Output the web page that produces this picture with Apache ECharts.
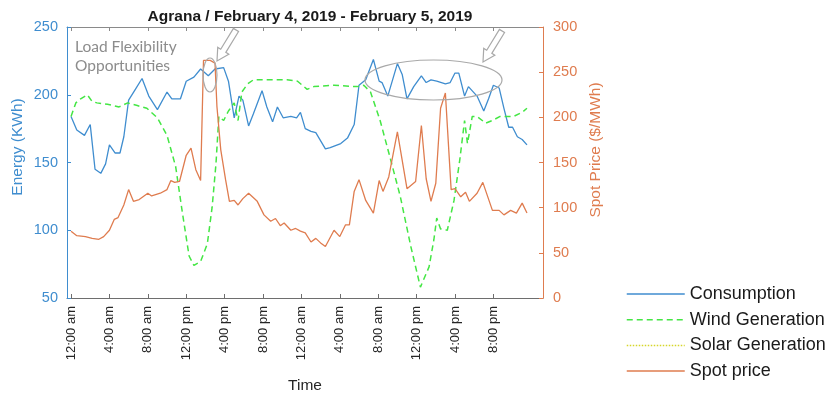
<!DOCTYPE html>
<html>
<head>
<meta charset="utf-8">
<script src="https://cdn.jsdelivr.net/npm/echarts@6/dist/echarts.min.js"></script>
<style>
  html, body { margin: 0; padding: 0; background: #ffffff; }
  #chart { width: 831px; height: 399px; }
</style>
</head>
<body>
<div id="chart"></div>
<script>
// Hours since 12:00 am on February 4, 2019
var tickHours = [0, 4, 8, 12, 16, 20, 24, 28, 32, 36, 40, 44];
var tickLabels = ['12:00 am', '4:00 am', '8:00 am', '12:00 pm', '4:00 pm', '8:00 pm',
                  '12:00 am', '4:00 am', '8:00 am', '12:00 pm', '4:00 pm', '8:00 pm'];

// Consumption (KWh)
var consumptionHours = [0, 0.6, 1.4, 2, 2.5, 3.1, 3.6, 4, 4.6, 5.1, 5.5, 6, 6.7, 7.4, 8.1, 9, 10, 10.5,
  11.4, 12, 12.8, 13.5, 14.3, 15, 15.9, 16.4, 17, 17.5, 17.9, 18.5, 19, 19.9, 20.4, 21, 21.5, 22.1,
  22.9, 23.5, 23.9, 24.4, 25, 25.5, 26.5, 27, 28.1, 28.8, 29.5, 30, 30.7, 31.5, 32.1, 32.4, 33, 34,
  34.5, 35, 35.7, 36.5, 37, 37.5, 38.1, 39, 39.5, 40, 40.4, 41, 41.4, 42.3, 43, 43.5, 44, 44.6, 45.1,
  45.6, 46, 46.5, 47, 47.5];
var consumption = [184, 174, 170, 178, 145, 142, 149, 163, 157, 157, 169, 196, 204, 212, 199, 189, 202, 197,
  197, 210, 213, 219, 214, 219, 220, 210, 183, 199, 196, 177, 186, 203, 191, 180, 191, 183,
  184, 183, 187, 175, 173, 172, 160, 161, 164, 168, 178, 207, 211, 226, 210, 209, 199, 223,
  215, 197, 206, 214, 209, 211, 210, 208, 209, 216, 216, 199, 206, 199, 188, 197, 207, 205, 190,
  176, 176, 169, 167, 163];

// Wind generation (KWh)
var windHours = [0, 0.5, 1, 1.7, 2.2, 2.7, 3.8, 5, 5.9, 6.9, 7.9, 9, 10, 10.9, 11.6, 12.3, 12.8, 13.5,
  14.2, 14.7, 15.1, 15.4, 15.9, 16.4, 17, 17.4, 17.8, 18.4, 19, 20.4, 22.5, 23.6, 24.6, 25.3, 27.4,
  29.8, 30.5, 31.2, 32.2, 33.3, 34.3, 35.4, 36.4, 37.3, 37.8, 38.1, 38.5, 39.2, 39.9, 40.5, 41,
  41.3, 41.8, 42.3, 43.2, 43.9, 44.7, 46.1, 47, 47.5];
var wind = [184, 194, 197, 200, 195, 194, 193, 191, 194, 192, 190, 183, 170, 147, 113, 81, 74, 77,
  90, 117, 149, 184, 181, 188, 194, 181, 202, 208, 211, 211, 211, 210, 204, 206, 207,
  206, 207, 202, 181, 152, 125, 88, 58, 73, 93, 109, 101, 100, 122, 152, 181,
  164, 184, 184, 179, 181, 184, 184, 187, 190];

// Solar generation (KWh)
var solarHours = [];
var solar = [];

// Spot price ($/MWh)
var priceHours = [0, 0.6, 1.5, 2.2, 2.9, 3.4, 4, 4.5, 4.9, 5.5, 6, 6.5, 7.1, 8, 8.4, 9.3, 10, 10.4,
  10.8, 11.3, 12, 12.5, 13, 13.5, 13.8, 14.5, 15, 15.2, 15.6, 16.1, 16.5, 17, 17.4, 17.9, 18.5, 19.4,
  20.1, 20.8, 21.3, 21.8, 22.2, 22.9, 23.4, 23.9, 24.4, 25, 25.5, 26, 26.5, 27.4, 28, 28.6, 29,
  29.5, 30, 30.7, 31.5, 32.1, 32.5, 33.1, 34, 35, 35.9, 36.5, 37, 37.5, 38, 38.5, 39, 39.6, 40,
  40.6, 41.1, 41.5, 42.3, 42.9, 43.9, 44.6, 45.1, 45.8, 46.4, 47, 47.5];
var price = [74, 69, 68, 66, 65, 68, 75, 87, 89, 103, 120, 107, 109, 116, 113, 116, 120, 130,
  128, 129, 158, 166, 142, 130, 263, 263, 260, 212, 164, 131, 107, 108, 103, 110, 116, 107,
  92, 85, 88, 80, 83, 75, 77, 74, 72, 62, 66, 61, 57, 75, 68, 81, 81,
  118, 131, 108, 94, 130, 118, 134, 184, 121, 129, 191, 132, 107, 127, 210, 227, 120, 121,
  112, 117, 107, 116, 128, 97, 97, 92, 97, 94, 105, 94];

var seriesNames = ['Consumption', 'Wind Generation', 'Solar Generation', 'Spot price'];

function pairs(xs, ys) {
  return xs.map(function (x, i) { return [x, ys[i]]; });
}

// Outlined block arrow from tail to tip
function arrowPoints(tipX, tipY, tailX, tailY, headLen, headHalf, shaftHalf) {
  var dx = tipX - tailX, dy = tipY - tailY;
  var len = Math.sqrt(dx * dx + dy * dy);
  var ux = dx / len, uy = dy / len;   // along the arrow
  var px = -uy, py = ux;              // perpendicular
  var bx = tipX - ux * headLen, by = tipY - uy * headLen;
  return [
    [tipX, tipY],
    [bx + px * headHalf, by + py * headHalf],
    [bx + px * shaftHalf, by + py * shaftHalf],
    [tailX + px * shaftHalf, tailY + py * shaftHalf],
    [tailX - px * shaftHalf, tailY - py * shaftHalf],
    [bx - px * shaftHalf, by - py * shaftHalf],
    [bx - px * headHalf, by - py * headHalf]
  ];
}

var FONT = "'Liberation Sans', Arial, sans-serif";
var BLUE = '#3f8dcf';
var ORANGE = '#df7c4f';
var GREEN = '#44e644';
var YELLOW = '#d6d62a';
var NOTE = '#a9a9a9';

var chart = echarts.init(document.getElementById('chart'), null, { renderer: 'canvas' });

var xRange = { min: -0.42, max: 49.17 };

chart.setOption({
  animation: false,
  backgroundColor: '#ffffff',
  title: {
    text: 'Agrana / February 4, 2019 - February 5, 2019',
    left: 305,
    top: 4,
    textAlign: 'center',
    textStyle: { fontFamily: FONT, fontSize: 15.5, fontWeight: 'bold', color: '#1a1a1a' }
  },
  grid: { left: 67, right: 288, top: 27, bottom: 101, containLabel: false },
  legend: {
    orient: 'vertical',
    left: 621,
    top: 280,
    itemWidth: 58,
    itemHeight: 12,
    itemGap: 7.7,
    data: seriesNames,
    itemStyle: { opacity: 0 },
    lineStyle: { width: 1.5 },
    textStyle: { fontFamily: FONT, fontSize: 18, color: '#1a1a1a', lineHeight: 18 }
  },
  xAxis: [
    {
      type: 'value',
      position: 'bottom',
      min: xRange.min,
      max: xRange.max,
      axisLine: { show: true, onZero: false, lineStyle: { color: '#6e6e6e', width: 1 } },
      axisTick: { show: true, inside: true, length: 4, customValues: tickHours,
                  lineStyle: { color: '#6e6e6e' } },
      axisLabel: {
        show: true,
        customValues: tickHours,
        rotate: 90,
        margin: 8,
        fontFamily: FONT,
        fontSize: 13,
        color: '#262626',
        formatter: function (v) {
          var i = tickHours.indexOf(Math.round(v));
          return i >= 0 ? tickLabels[i] : '';
        }
      },
      splitLine: { show: false },
      name: 'Time',
      nameLocation: 'middle',
      nameGap: 80,
      nameTextStyle: { fontFamily: FONT, fontSize: 15.5, color: '#262626' }
    },
    {
      type: 'value',
      position: 'top',
      min: xRange.min,
      max: xRange.max,
      axisLine: { show: true, onZero: false, lineStyle: { color: '#8a8a8a', width: 1 } },
      axisTick: { show: true, inside: true, length: 4, customValues: tickHours,
                  lineStyle: { color: '#8a8a8a' } },
      axisLabel: { show: false },
      splitLine: { show: false }
    }
  ],
  yAxis: [
    {
      type: 'value',
      position: 'left',
      min: 50,
      max: 250,
      interval: 50,
      axisLine: { show: true, onZero: false, lineStyle: { color: BLUE, width: 1 } },
      axisTick: { show: true, inside: true, length: 4, lineStyle: { color: BLUE } },
      axisLabel: { margin: 9, fontFamily: FONT, fontSize: 14.5, color: BLUE },
      splitLine: { show: false }
    },
    {
      type: 'value',
      position: 'right',
      min: 0,
      max: 300,
      interval: 50,
      axisLine: { show: true, onZero: false, lineStyle: { color: ORANGE, width: 1 } },
      axisTick: { show: true, inside: true, length: 4, lineStyle: { color: ORANGE } },
      axisLabel: { margin: 10, fontFamily: FONT, fontSize: 14.5, color: ORANGE },
      splitLine: { show: false }
    }
  ],
  series: [
    {
      name: seriesNames[0], type: 'line', xAxisIndex: 0, yAxisIndex: 0,
      data: pairs(consumptionHours, consumption),
      symbol: 'none', color: BLUE,
      lineStyle: { color: BLUE, width: 1.3 }
    },
    {
      name: seriesNames[1], type: 'line', xAxisIndex: 0, yAxisIndex: 0,
      data: pairs(windHours, wind),
      symbol: 'none', color: GREEN,
      lineStyle: { color: GREEN, width: 1.5, type: [6, 4] }
    },
    {
      name: seriesNames[2], type: 'line', xAxisIndex: 0, yAxisIndex: 0,
      data: pairs(solarHours, solar),
      symbol: 'none', color: YELLOW,
      lineStyle: { color: YELLOW, width: 1.5, type: 'dotted' }
    },
    {
      name: seriesNames[3], type: 'line', xAxisIndex: 0, yAxisIndex: 1,
      data: pairs(priceHours, price),
      symbol: 'none', color: ORANGE,
      lineStyle: { color: ORANGE, width: 1.3 }
    }
  ],
  graphic: [
    {
      type: 'text', x: 18, y: 147, rotation: Math.PI / 2,
      style: { text: 'Energy (KWh)', fontFamily: FONT, fontSize: 15.5, fill: BLUE,
               align: 'center', verticalAlign: 'middle' }
    },
    {
      type: 'text', x: 596, y: 150, rotation: Math.PI / 2,
      style: { text: 'Spot Price ($/MWh)', fontFamily: FONT, fontSize: 15.5, fill: ORANGE,
               align: 'center', verticalAlign: 'middle' }
    },
    {
      type: 'text', x: 75, y: 47,
      style: { text: 'Load Flexibility', fontFamily: "Lato, 'Open Sans', sans-serif", fontSize: 15.5,
               fill: '#8c8c8c', align: 'left', verticalAlign: 'middle' }
    },
    {
      type: 'text', x: 75, y: 66,
      style: { text: 'Opportunities', fontFamily: "Lato, 'Open Sans', sans-serif", fontSize: 15.5,
               fill: '#8c8c8c', align: 'left', verticalAlign: 'middle' }
    },
    {
      type: 'ellipse', z: 100,
      shape: { cx: 210, cy: 75, rx: 7, ry: 17 },
      style: { fill: 'none', stroke: NOTE, lineWidth: 1.2 }
    },
    {
      type: 'ellipse', z: 100,
      shape: { cx: 433.5, cy: 80, rx: 68.5, ry: 20 },
      style: { fill: 'none', stroke: NOTE, lineWidth: 1.2 }
    },
    {
      type: 'polygon', z: 100,
      shape: { points: arrowPoints(217, 61, 236, 30, 12, 6.5, 3) },
      style: { fill: '#ffffff', stroke: NOTE, lineWidth: 1.2 }
    },
    {
      type: 'polygon', z: 100,
      shape: { points: arrowPoints(483, 62, 502, 31, 12, 6.5, 3) },
      style: { fill: '#ffffff', stroke: NOTE, lineWidth: 1.2 }
    }
  ]
});
</script>
</body>
</html>
